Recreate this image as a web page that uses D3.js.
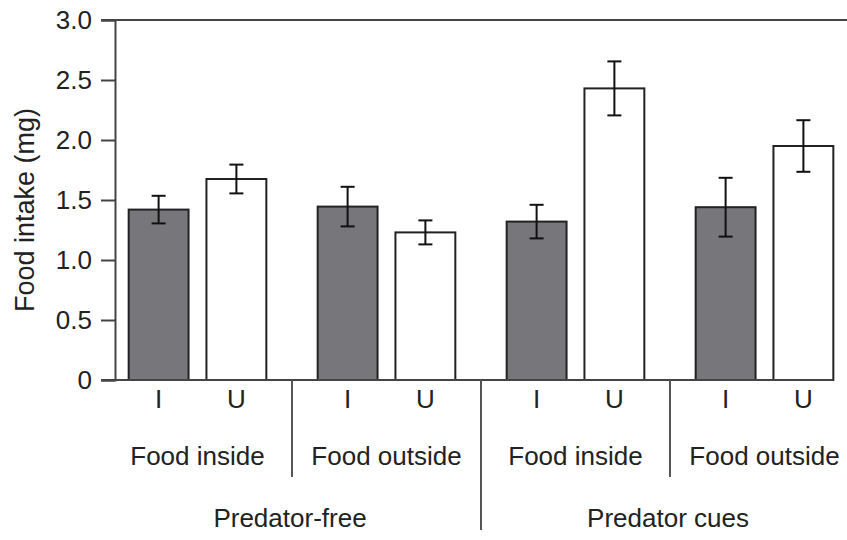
<!DOCTYPE html>
<html>
<head>
<meta charset="utf-8">
<script src="https://cdn.jsdelivr.net/npm/d3@7"></script>
<style>
  body { margin: 0; background: #fff; }
  text { font-family: "Liberation Sans", Arial, sans-serif; fill: #222; }
</style>
</head>
<body>
<div id="chart"></div>
<script>
// data
var conditions = ["Predator-free", "Predator cues"];
var locations = ["Food inside", "Food outside"];
var treatments = ["I", "U"];
// order: PF/inside I,U  PF/outside I,U  PC/inside I,U  PC/outside I,U
var means = [1.42, 1.675, 1.445, 1.23, 1.32, 2.43, 1.44, 1.95];
var errors = [0.115, 0.12, 0.165, 0.1, 0.14, 0.225, 0.245, 0.215];
var yTicks = [0, 0.5, 1.0, 1.5, 2.0, 2.5, 3.0];

var svgWidth = 847;
var svgHeight = 540;

var svg = d3.select("#chart")
    .append("svg")
    .attr("width", svgWidth)
    .attr("height", svgHeight);

var groupKeys = [];
conditions.forEach(function(c){
    locations.forEach(function(l){ groupKeys.push(c + "|" + l); });
});

var data = [];
groupKeys.forEach(function(g, gi){
    treatments.forEach(function(t, ti){
        var k = gi * 2 + ti;
        data.push({group: g, location: g.split("|")[1], treat: t, mean: means[k], se: errors[k]});
    });
});

var x0 = d3.scaleBand().domain(groupKeys).range([103, 859]);
var x1 = d3.scaleBand().domain(treatments).range([0, x0.bandwidth()])
    .paddingInner(0.23).paddingOuter(0.33);
var y = d3.scaleLinear().domain([0, 3]).range([380, 20]);

var axisX = 115;

// top frame line
svg.append("line")
    .attr("x1", axisX - 14).attr("x2", svgWidth)
    .attr("y1", y(3)).attr("y2", y(3))
    .attr("stroke", "#444").attr("stroke-width", 2);

// y axis
var leftAxis = d3.axisLeft(y)
    .tickValues(yTicks)
    .tickSize(14)
    .tickPadding(9)
    .tickFormat(function(d){ return d === 0 ? "0" : d3.format(".1f")(d); });

var yAxis = svg.append("g")
    .attr("transform", `translate(${axisX},0)`)
    .call(leftAxis);
yAxis.select(".domain").attr("stroke", "#444").attr("stroke-width", 2);
yAxis.selectAll(".tick line").attr("stroke", "#444").attr("stroke-width", 2);
yAxis.selectAll(".tick text")
    .style("font-family", "Liberation Sans, Arial, sans-serif")
    .style("font-size", "26px")
    .attr("fill", "#222");

svg.append("text")
    .attr("transform", "rotate(-90)")
    .attr("x", -210)
    .attr("y", 34)
    .attr("text-anchor", "middle")
    .style("font-size", "27px")
    .text("Food intake (mg)");

// bars
var bars = svg.selectAll("g.bar")
    .data(data)
    .enter()
    .append("g")
    .attr("class", "bar")
    .attr("transform", d => `translate(${x0(d.group) + x1(d.treat)},0)`);

bars.append("rect")
    .attr("x", 0)
    .attr("y", d => y(d.mean))
    .attr("width", x1.bandwidth())
    .attr("height", d => y(0) - y(d.mean))
    .attr("fill", d => d.treat === "I" ? "#77777b" : "#fff")
    .attr("stroke", "#222")
    .attr("stroke-width", 2);

var cx = x1.bandwidth() / 2;
bars.append("line")
    .attr("x1", cx).attr("x2", cx)
    .attr("y1", d => y(d.mean + d.se))
    .attr("y2", d => y(d.mean - d.se))
    .attr("stroke", "#111").attr("stroke-width", 2);
bars.append("line")
    .attr("x1", cx - 7).attr("x2", cx + 7)
    .attr("y1", d => y(d.mean + d.se)).attr("y2", d => y(d.mean + d.se))
    .attr("stroke", "#111").attr("stroke-width", 2);
bars.append("line")
    .attr("x1", cx - 7).attr("x2", cx + 7)
    .attr("y1", d => y(d.mean - d.se)).attr("y2", d => y(d.mean - d.se))
    .attr("stroke", "#111").attr("stroke-width", 2);

// baseline
var lastBar = data[data.length - 1];
svg.append("line")
    .attr("x1", axisX - 14)
    .attr("x2", x0(lastBar.group) + x1(lastBar.treat) + x1.bandwidth())
    .attr("y1", y(0)).attr("y2", y(0))
    .attr("stroke", "#444").attr("stroke-width", 2);

// treatment labels
bars.append("text")
    .attr("x", cx)
    .attr("y", 408)
    .attr("text-anchor", "middle")
    .style("font-size", "26px")
    .text(d => d.treat);

// location labels
svg.selectAll("text.loc")
    .data(groupKeys)
    .enter()
    .append("text")
    .attr("class", "loc")
    .attr("x", d => x0(d) + x0.bandwidth() / 2)
    .attr("y", 465)
    .attr("text-anchor", "middle")
    .style("font-size", "26px")
    .text(d => d.split("|")[1]);

// condition labels
conditions.forEach(function(c){
    var first = x0(c + "|" + locations[0]);
    var last = x0(c + "|" + locations[1]) + x0.bandwidth();
    svg.append("text")
        .attr("x", (first + last) / 2 - 2)
        .attr("y", 527)
        .attr("text-anchor", "middle")
        .style("font-size", "26px")
        .text(c);
});

// dividers between groups
groupKeys.slice(1).forEach(function(g, i){
    var major = (i === 1);
    svg.append("line")
        .attr("x1", x0(g)).attr("x2", x0(g))
        .attr("y1", y(0)).attr("y2", major ? 530 : 477)
        .attr("stroke", "#555").attr("stroke-width", 2);
});
</script>
</body>
</html>
